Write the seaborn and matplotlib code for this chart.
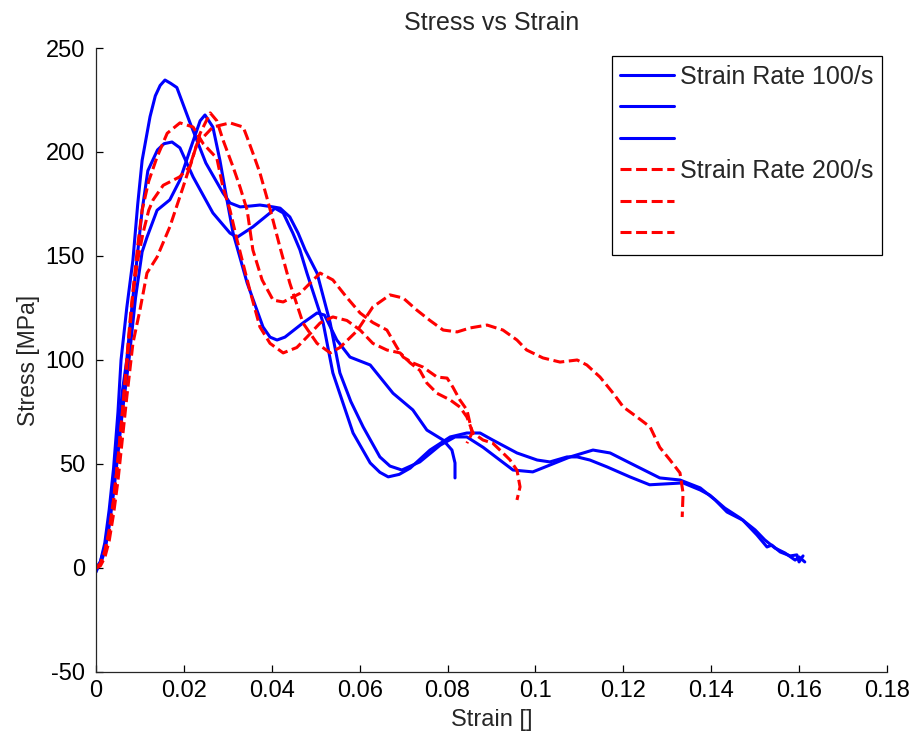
import numpy as np
import pandas as pd
import seaborn as sns
import matplotlib
matplotlib.use("Agg")
import matplotlib.pyplot as plt
from matplotlib.lines import Line2D

# ---- Strain-rate 100/s specimens -------------------------------------------
b1_strain = [0.0, 0.001, 0.002, 0.003, 0.004, 0.005, 0.0057, 0.007, 0.0084, 0.0095,
             0.0105, 0.0123, 0.0135, 0.0146, 0.0157, 0.0170, 0.0184, 0.0214, 0.0250,
             0.0289, 0.0305, 0.0328, 0.0350, 0.0373, 0.0403, 0.0419, 0.0441, 0.0460,
             0.0476, 0.0503, 0.0533, 0.0555, 0.0580, 0.0608, 0.0646, 0.0669, 0.0696,
             0.0737, 0.0783, 0.0817, 0.0844, 0.0881, 0.0919, 0.0949, 0.0994, 0.1033,
             0.1079, 0.1131, 0.1170, 0.1215, 0.1283, 0.1329, 0.1375, 0.1409, 0.1436,
             0.1472, 0.1504, 0.1527, 0.1538, 0.1557, 0.1580, 0.1595, 0.1600, 0.1609]
b1_stress = [-2, 3, 12, 28, 48, 75, 100, 125, 148, 175,
             196, 217, 227, 232, 234.6, 233, 231, 214, 194.7,
             180.3, 175.5, 173.6, 174, 174.5, 173.6, 173, 168.8, 161,
             152.9, 141.8, 117.8, 93.8, 80, 67.8, 53.4, 49, 47.1,
             51, 59, 63, 63, 58, 51.9, 47.1, 46.2, 49.5,
             53.4, 56.7, 55.3, 50.5, 43.3, 42.3, 38.5, 32.7, 26.9,
             23, 15.9, 10.1, 11, 7.7, 5.8, 6.3, 2.9, 5.8]

b2_strain = [0.0, 0.001, 0.002, 0.003, 0.004, 0.005, 0.006, 0.007, 0.008, 0.0093,
             0.0105, 0.0118, 0.0140, 0.0155, 0.0173, 0.0191, 0.0221, 0.0266, 0.0305,
             0.0321, 0.0357, 0.0396, 0.0407, 0.0426, 0.0448, 0.0464, 0.0480, 0.0517,
             0.0539, 0.0585, 0.0624, 0.0646, 0.0665, 0.0690, 0.0715, 0.0760, 0.0806,
             0.0844, 0.0874, 0.0903, 0.0958, 0.1004, 0.1033, 0.1072, 0.1095, 0.1124,
             0.1163, 0.1215, 0.1260, 0.1336, 0.1375, 0.1397, 0.1431, 0.1466, 0.1500,
             0.1522, 0.1545, 0.1568, 0.1591, 0.1600, 0.1613]
b2_stress = [0, 3, 10, 24, 42, 64, 85, 100, 122, 148,
             172, 191, 201, 204, 204.8, 202, 188, 170.7, 161,
             159, 164, 170.7, 173, 170.7, 161, 153, 141.8, 117.8,
             93.8, 64.9, 50.5, 46, 43.8, 45, 48, 56.7, 63,
             64.9, 64.9, 61.5, 55.3, 51.9, 51, 53.4, 53.4, 51.9,
             48.6, 43.8, 40, 40.9, 37.5, 35, 28.8, 24, 18.3,
             13.5, 9.6, 7.2, 3.8, 5.3, 2.9]

b3_strain = [0.0, 0.001, 0.002, 0.003, 0.004, 0.005, 0.006, 0.0075, 0.009, 0.0105,
             0.0116, 0.0139, 0.0168, 0.0191, 0.0214, 0.0237, 0.0248, 0.0266, 0.0282,
             0.0298, 0.0312, 0.0344, 0.0380, 0.0396, 0.0412, 0.0430, 0.0471, 0.0503,
             0.0520, 0.0548, 0.0578, 0.0624, 0.0676, 0.0721, 0.0753, 0.0790, 0.0810,
             0.0817, 0.0817]
b3_stress = [0, 2, 8, 20, 36, 55, 75, 100, 130, 152,
             159, 172, 177, 186.5, 201, 215, 217.8, 212, 196,
             177, 161, 137, 115.9, 111, 109.6, 111, 117.8, 122.6,
             121.6, 109.6, 101.4, 97.6, 84, 76, 66.3, 61.5, 56.7,
             50.5, 43.3]

# ---- Strain-rate 200/s specimens -------------------------------------------
r1_strain = [0.0, 0.001, 0.002, 0.003, 0.004, 0.005, 0.006, 0.007, 0.0077, 0.0085,
             0.0095, 0.0105, 0.0120, 0.0139, 0.0162, 0.0191, 0.0221, 0.0244, 0.0275,
             0.0289, 0.0305, 0.0321, 0.0350, 0.0373, 0.0396, 0.0426, 0.0457, 0.0480,
             0.0510, 0.0539, 0.0571, 0.0601, 0.0630, 0.0662, 0.0692, 0.0715, 0.0737,
             0.0753, 0.0776, 0.0806, 0.0828, 0.0844, 0.0858, 0.0881, 0.0903, 0.0926,
             0.0942, 0.0958, 0.0965, 0.0958]
r1_stress = [0, 2, 8, 18, 33, 52, 75, 100, 118, 135,
             155, 172, 186, 197.6, 209, 214, 212, 204, 197,
             183, 172, 157.7, 133.6, 115.9, 108, 103.4, 106, 111,
             117.8, 120.7, 119, 114.4, 108, 104.8, 103.4, 98.6, 95,
             88.9, 84, 80.8, 77.4, 72.6, 64.9, 61.5, 60, 55.3,
             52, 47, 39, 32.7]

r2_strain = [0.0, 0.001, 0.002, 0.003, 0.004, 0.005, 0.006, 0.007, 0.0084, 0.0095,
             0.0107, 0.0120, 0.0130, 0.0153, 0.0190, 0.0214, 0.0237, 0.0260, 0.0275,
             0.0289, 0.0312, 0.0328, 0.0344, 0.0357, 0.0378, 0.0403, 0.0426, 0.0464,
             0.0510, 0.0539, 0.0571, 0.0601, 0.0630, 0.0662, 0.0685, 0.0699, 0.0721,
             0.0744, 0.0776, 0.0799, 0.0812, 0.0828, 0.0844, 0.0851, 0.0856, 0.0844]
r2_stress = [0, 2, 7, 17, 32, 52, 74, 97, 132, 148,
             161, 172, 177, 184, 188, 193, 209, 218.8, 215,
             205.8, 192.8, 183, 172, 152.9, 138.5, 128.8, 127.9, 132,
             141.8, 138.5, 130, 122.6, 118, 114.4, 106, 101.4, 98.6,
             96.6, 91.8, 91.3, 87, 80.8, 76, 69.7, 64.9, 60]

r3_strain = [0.0, 0.001, 0.002, 0.003, 0.004, 0.005, 0.006, 0.007, 0.0084, 0.0100,
             0.0116, 0.0139, 0.0168, 0.0198, 0.0230, 0.0266, 0.0305, 0.0335, 0.0344,
             0.0357, 0.0373, 0.0389, 0.0403, 0.0419, 0.0441, 0.0471, 0.0503, 0.0533,
             0.0555, 0.0594, 0.0630, 0.0669, 0.0699, 0.0730, 0.0760, 0.0790, 0.0822,
             0.0851, 0.0890, 0.0926, 0.0958, 0.0980, 0.1017, 0.1056, 0.1095, 0.1117,
             0.1147, 0.1177, 0.1200, 0.1231, 0.1261, 0.1283, 0.1306, 0.1329, 0.1336,
             0.1334]
r3_stress = [0, 1, 5, 13, 26, 42, 62, 82, 108, 124,
             141.8, 149.5, 164, 183, 204, 212, 214, 212, 207,
             199.5, 190, 178, 167, 154, 137, 117.8, 108, 103.4,
             106, 114, 125.5, 131.3, 129.8, 124, 119, 114.4, 113.5,
             115.4, 116.8, 114.4, 109.6, 104.8, 101, 99, 100, 97.6,
             91.8, 84, 77.4, 72.6, 67.8, 58, 52, 45.7, 36,
             24.5]

rate_labels = ["Strain Rate 100/s", "Strain Rate 200/s"]
x_ticks = [0, 0.02, 0.04, 0.06, 0.08, 0.1, 0.12, 0.14, 0.16, 0.18]
x_tick_labels = ["0", "0.02", "0.04", "0.06", "0.08", "0.1", "0.12", "0.14", "0.16", "0.18"]
y_ticks = [-50, 0, 50, 100, 150, 200, 250]

curves = [
    ("100/s", "A", b1_strain, b1_stress),
    ("100/s", "B", b2_strain, b2_stress),
    ("100/s", "C", b3_strain, b3_stress),
    ("200/s", "A", r1_strain, r1_stress),
    ("200/s", "B", r2_strain, r2_stress),
    ("200/s", "C", r3_strain, r3_stress),
]
frames = [pd.DataFrame({"strain": s, "stress": t, "rate": r, "specimen": f"{r}-{sp}"})
          for r, sp, s, t in curves]
df = pd.concat(frames, ignore_index=True)

sns.set_theme(style="white")
plt.rcParams["font.family"] = ["Liberation Sans", "DejaVu Sans"]
plt.rcParams["axes.unicode_minus"] = False
FS = 17

fig = plt.figure(figsize=(9.16, 7.34), dpi=100)
ax = fig.add_axes([0.1048, 0.0845, 0.8635, 0.8501])

styles = {"100/s": dict(color="#0000ff", dashes=None),
          "200/s": dict(color="#ff0000", dashes=(3.6, 1.5))}
lw = 2.2
for spec, sub in df.groupby("specimen", sort=False):
    rate = sub["rate"].iloc[0]
    st = styles[rate]
    line_kw = {} if st["dashes"] is None else {"dashes": st["dashes"]}
    sns.lineplot(data=sub, x="strain", y="stress", sort=False, estimator=None,
                 color=st["color"], linewidth=lw, ax=ax, legend=False, **line_kw)

ax.set_xlim(0, 0.18)
ax.set_ylim(-50, 250)
ax.set_xticks(x_ticks)
ax.set_xticklabels(x_tick_labels)
ax.set_yticks(y_ticks)
ax.tick_params(bottom=True, left=True, top=False, right=False,
               direction="in", length=5, width=0.9, colors="#000000",
               labelsize=FS)
ax.tick_params(axis="x", pad=6)
ax.tick_params(axis="y", pad=8)
for side in ("top", "right"):
    ax.spines[side].set_visible(False)
for side in ("left", "bottom"):
    ax.spines[side].set_color("#262626")
    ax.spines[side].set_linewidth(0.9)

ax.set_title("Stress vs Strain", fontsize=18, pad=13)
ax.set_xlabel("Strain []", fontsize=FS, labelpad=5)
ax.set_ylabel("Stress [MPa]", fontsize=16.5, labelpad=4)

handles = []
labels = []
for rate, name in zip(["100/s", "200/s"], rate_labels):
    st = styles[rate]
    for k in range(3):
        ls = "-" if st["dashes"] is None else (0, st["dashes"])
        handles.append(Line2D([], [], color=st["color"], linewidth=lw, linestyle=ls))
        labels.append(name if k == 0 else "")
leg = ax.legend(handles, labels, loc="upper right", bbox_to_anchor=(0.994, 0.987),
                frameon=True, fancybox=False, framealpha=1, edgecolor="#000000",
                fontsize=18, handlelength=2.15, handletextpad=0.25,
                labelspacing=0.30, borderpad=0.34, borderaxespad=0)
leg.get_frame().set_linewidth(0.9)

fig.savefig("out.png", dpi=100)
